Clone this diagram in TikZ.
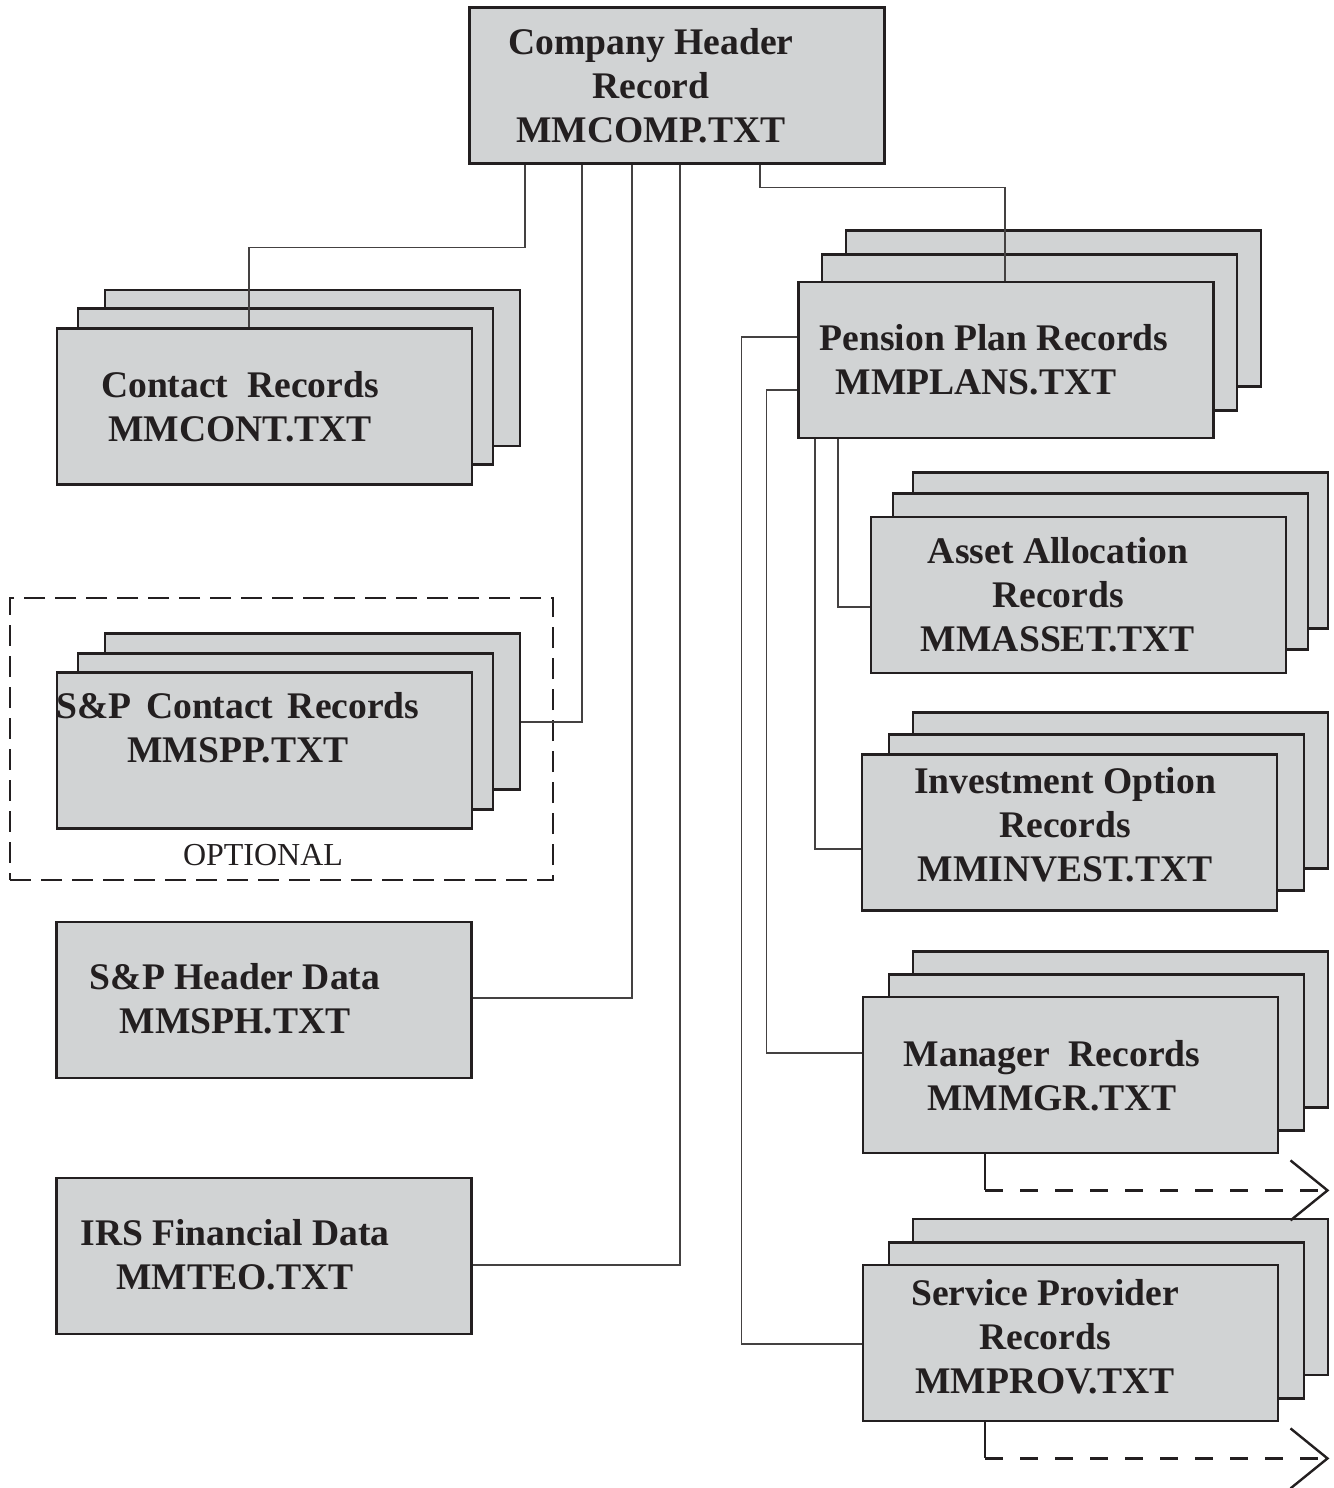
\documentclass[tikz,border=0pt]{standalone}
\usepackage{fontspec}
\setmainfont{Liberation Serif}
\usetikzlibrary{arrows.meta,calc}
\definecolor{boxgray}{RGB}{209,211,212}
\definecolor{ink}{RGB}{35,31,32}

\begin{document}
\begin{tikzpicture}[x=0.5pt,y=-0.5pt,
    rec/.style={draw=ink,fill=boxgray,line width=1.4pt,minimum width=207.5pt,minimum height=78pt,inner sep=0pt},
    lbl/.style={text=ink,font=\fontsize{18.8}{22}\selectfont\bfseries,align=center,inner sep=0pt},
    link/.style={draw=ink!85,line width=0.6pt},
    stub/.style={draw=ink,line width=1.1pt},
    fwd/.style={draw=ink,line width=1.3pt,dash pattern=on 9pt off 8.5pt,-{Straight Barb[length=18.5pt,width=30pt,line width=1.2pt]}},
    optframe/.style={draw=ink,line width=1.3pt,dash pattern=on 10.5pt off 5pt,minimum width=271.5pt,minimum height=141pt,inner sep=0pt}]
    \useasboundingbox (0,0) rectangle (1333,1488);
    \node[optframe] (optbox) at (281.5,739) {};
    \node[rec] (comp) at (677,85.5) {};
    \node[rec] (contact-b) at (312.5,368) {};
    \node[rec] (contact-m) at (285.5,386.5) {};
    \node[rec] (contact) at (264.5,406.5) {};
    \node[rec] (spp-b) at (312.5,711.5) {};
    \node[rec] (spp-m) at (285.5,731.5) {};
    \node[rec] (spp) at (264.5,750.5) {};
    \node[rec] (sph) at (264,1000) {};
    \node[rec] (irs) at (264,1256) {};
    \node[rec] (plans-b) at (1053.5,308.5) {};
    \node[rec] (plans-m) at (1029.5,332.5) {};
    \node[rec] (plans) at (1006,360) {};
    \node[rec] (asset-b) at (1120.5,550.5) {};
    \node[rec] (asset-m) at (1100.5,571.5) {};
    \node[rec] (asset) at (1078.5,595) {};
    \node[rec] (invest-b) at (1120.5,790.5) {};
    \node[rec] (invest-m) at (1096.5,812.5) {};
    \node[rec] (invest) at (1069.5,832.5) {};
    \node[rec] (mgr-b) at (1120.5,1029.5) {};
    \node[rec] (mgr-m) at (1096.5,1052.5) {};
    \node[rec] (mgr) at (1070.5,1075) {};
    \node[rec] (prov-b) at (1120.5,1297) {};
    \node[rec] (prov-m) at (1096.5,1320.5) {};
    \node[rec] (prov) at (1070.5,1343) {};
    % texts
    \node[lbl] (comp-txt) at (651,86) {Company Header\\Record\\MMCOMP.TXT};
    \node[lbl] (contact-txt) at (240,407) {Contact~ Records\\MMCONT.TXT};
    \node[lbl] (spp-txt) at (238,728) {S\&P\hspace{2.5pt} Contact\hspace{2.5pt} Records\\MMSPP.TXT};
    \node[text=ink,font=\fontsize{16}{19}\selectfont,inner sep=0pt] (opt-txt) at (263,855) {OPTIONAL};
    \node[lbl] (sph-txt) at (235,999) {S\&P Header Data\\MMSPH.TXT};
    \node[lbl] (irs-txt) at (235,1255) {IRS Financial Data\\MMTEO.TXT};
    \node[lbl] (plans-txt) at (994,360) {Pension Plan Records\\MMPLANS.TXT\hspace*{18pt}};
    \node[lbl] (asset-txt) at (1058,595) {Asset Allocation\\Records\\MMASSET.TXT};
    \node[lbl] (invest-txt) at (1065,825) {Investment Option\\Records\\MMINVEST.TXT};
    \node[lbl] (mgr-txt) at (1052,1076) {Manager~ Records\\MMMGR.TXT};
    \node[lbl] (prov-txt) at (1045,1337) {Service Provider\\Records\\MMPROV.TXT};
    % links from the header record
    \draw[link] ($(comp.south)+(-152,0)$) |- ($(contact.north)+(-15.5,-80)$) -- ($(contact.north)+(-15.5,0)$);
    \draw[link] ($(comp.south)+(-95,0)$) |- ($(spp-b.east)+(0,10.5)$);
    \draw[link] ($(comp.south)+(-45,0)$) |- ($(sph.east)+(0,-2)$);
    \draw[link] ($(comp.south)+(3,0)$) |- ($(irs.east)+(0,9)$);
    \draw[link] ($(comp.south)+(83,0)$) |- ($(plans.north)+(-1,-93)$) -- ($(plans.north)+(-1,0)$);
    % links from the plan records
    \draw[link] ($(plans.west)+(0,30)$) -- ++(-31,0) |- ($(mgr.west)+(0,-22)$);
    \draw[link] ($(plans.west)+(0,-23)$) -- ++(-56,0) |- ($(prov.west)+(0,1)$);
    \draw[link] ($(plans.south)+(-168,0)$) |- ($(asset.west)+(0,12)$);
    \draw[link] ($(plans.south)+(-191,0)$) |- ($(invest.west)+(0,16.5)$);
    % continued
    \draw[stub] ($(mgr.south)+(-85.5,0)$) -- ++(0,36) coordinate (mgr-turn);
    \draw[fwd] (mgr-turn) -- (mgr-turn -| mgr-b.east);
    \draw[stub] ($(prov.south)+(-85.5,0)$) -- ++(0,36) coordinate (prov-turn);
    \draw[fwd] (prov-turn) -- (prov-turn -| prov-b.east);
\end{tikzpicture}
\end{document}
